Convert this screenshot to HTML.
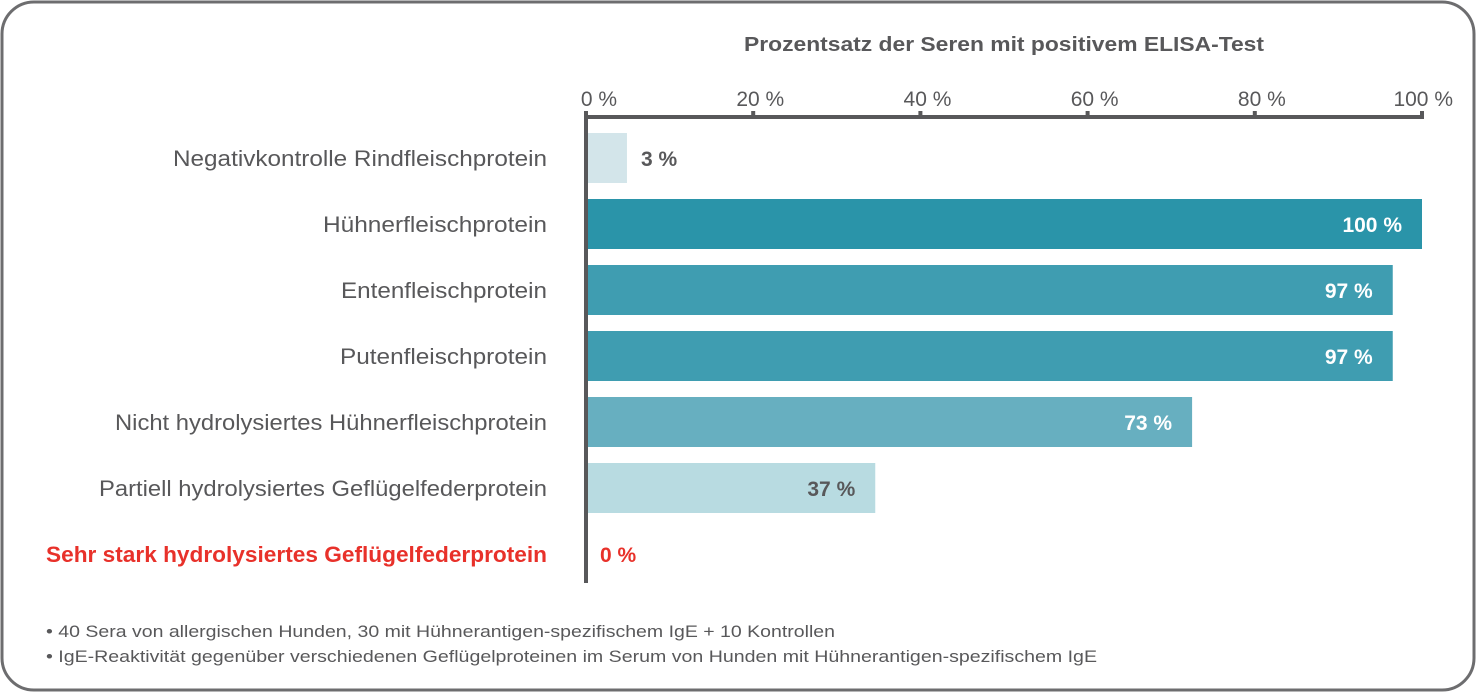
<!DOCTYPE html>
<html><head><meta charset="utf-8"><style>
body{margin:0;background:#fff;}
svg{display:block;font-family:"Liberation Sans",sans-serif;}
</style></head><body>
<svg id="chart" width="1478" height="693" viewBox="0 0 1478 693">
<rect x="2" y="2" width="1472" height="688" rx="32" ry="32" fill="#fff" stroke="#6d6d6f" stroke-width="3"/>
<text x="744" y="51" font-size="20" font-weight="bold" fill="#58585a" textLength="520" lengthAdjust="spacingAndGlyphs">Prozentsatz der Seren mit positivem ELISA-Test</text>
<g id="ticks"></g>
<g id="bars"></g>
<line x1="586" y1="115" x2="586" y2="583" stroke="#58585a" stroke-width="4"/>
<line x1="584" y1="117" x2="1424" y2="117" stroke="#58585a" stroke-width="4"/>
<text x="46" y="637" font-size="17" fill="#58585a" textLength="789" lengthAdjust="spacingAndGlyphs">• 40 Sera von allergischen Hunden, 30 mit Hühnerantigen-spezifischem IgE + 10 Kontrollen</text>
<text x="46" y="662" font-size="17" fill="#58585a" textLength="1051" lengthAdjust="spacingAndGlyphs">• IgE-Reaktivität gegenüber verschiedenen Geflügelproteinen im Serum von Hunden mit Hühnerantigen-spezifischem IgE</text>
</svg>
<script>
const categories=["Negativkontrolle Rindfleischprotein","Hühnerfleischprotein","Entenfleischprotein","Putenfleischprotein","Nicht hydrolysiertes Hühnerfleischprotein","Partiell hydrolysiertes Geflügelfederprotein","Sehr stark hydrolysiertes Geflügelfederprotein"];
const values=[4.9,100,96.5,96.5,72.5,34.6,0];
const valueLabels=["3 %","100 %","97 %","97 %","73 %","37 %","0 %"];
const tickValues=[0,20,40,60,80,100];
const tickLabels=["0 %","20 %","40 %","60 %","80 %","100 %"];
const colors=["#d3e5ea","#2a94a9","#3f9db1","#3f9db1","#67afc0","#b8dbe1","#b8dbe1"];
const labelWidths=[374,224,206,207,432,448,501];
const NS="http://www.w3.org/2000/svg";
const x0=586,x1=1422;
function xs(v){return x0+(x1-x0)*v/100;}
function yc(i){return 158+i*66;}
const tg=document.getElementById('ticks'),bg=document.getElementById('bars');
function mk(tag,attrs,parent){const e=document.createElementNS(NS,tag);for(const k in attrs)e.setAttribute(k,attrs[k]);parent.appendChild(e);return e;}
tickValues.forEach((v,i)=>{
  const l=mk('line',{x1:xs(v),x2:xs(v),y1:111,y2:117,stroke:'#58585a','stroke-width':4},tg);
  
  
  const t=mk('text',{x:xs(v)+31,y:106,'text-anchor':'end','font-size':21,fill:'#58585a'},tg);
  t.textContent=tickLabels[i];
  
  
});
categories.forEach((c,i)=>{
  const last=i===categories.length-1;
  const t=mk('text',{x:547-labelWidths[i],y:yc(i)+8,'font-size':22,fill:last?'#e8312a':'#58585a','font-weight':last?'bold':'normal',textLength:labelWidths[i],lengthAdjust:'spacingAndGlyphs'},bg);
  t.textContent=c;
  
  
  const w=xs(values[i])-x0;
  if(w>0){
    const r=mk('rect',{x:x0,y:yc(i)-25,width:w,height:50,fill:colors[i]},bg);
    
    
  }
  let lx,anchor,fill;
  if(w>120){lx=xs(values[i])-20;anchor='end';fill=i===5?'#58585a':'#fff';}
  else{lx=xs(values[i])+14;anchor='start';fill=last?'#e8312a':'#58585a';}
  const vt=mk('text',{x:lx,y:yc(i)+8,'text-anchor':anchor,'font-size':21,'font-weight':'bold',fill:fill},bg);
  vt.textContent=valueLabels[i];
  
  
});
</script>
</body></html>
